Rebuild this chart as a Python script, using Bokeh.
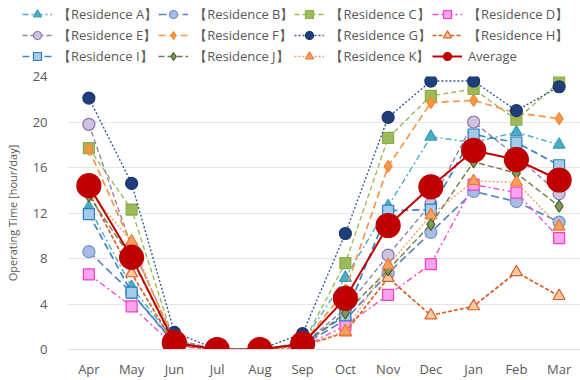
from bokeh.plotting import figure
from bokeh.layouts import column, row
from bokeh.models import FactorRange, Legend, LegendItem, ColumnDataSource
from bokeh.embed import file_html
from bokeh.resources import INLINE

months = ["Apr", "May", "Jun", "Jul", "Aug", "Sep", "Oct", "Nov", "Dec", "Jan", "Feb", "Mar"]

res_a = [12.5, 5.5, 0.8, 0.0, 0.0, 0.6, 6.3, 12.6, 18.7, 18.2, 19.1, 18.0]
res_b = [8.6, 5.0, 0.5, 0.0, 0.0, 0.4, 2.6, 6.7, 10.3, 13.9, 13.0, 11.2]
res_c = [17.7, 12.3, 0.6, 0.0, 0.0, 0.5, 7.6, 18.6, 22.3, 22.9, 20.2, 23.5]
res_d = [6.6, 3.8, 0.3, 0.0, 0.0, 0.2, 2.1, 4.8, 7.5, 14.5, 13.8, 9.8]
res_e = [19.8, 9.0, 0.9, 0.0, 0.0, 0.4, 3.6, 8.3, 12.8, 20.0, 17.0, 13.7]
res_f = [17.6, 9.2, 0.7, 0.0, 0.0, 0.5, 5.2, 16.1, 21.7, 21.9, 20.8, 20.3]
res_g = [22.1, 14.6, 1.5, 0.0, 0.0, 1.4, 10.2, 20.4, 23.6, 23.6, 21.0, 23.1]
res_h = [13.8, 6.7, 0.4, 0.0, 0.0, 0.3, 1.5, 6.3, 3.0, 3.8, 6.8, 4.7]
res_i = [11.9, 5.0, 0.6, 0.0, 0.0, 0.5, 3.0, 12.2, 12.3, 18.9, 18.2, 16.2]
res_j = [13.5, 8.0, 0.5, 0.0, 0.0, 0.4, 3.2, 7.0, 11.0, 16.5, 15.5, 12.6]
res_k = [13.9, 9.5, 0.6, 0.0, 0.0, 0.3, 1.6, 7.4, 11.8, 14.8, 14.7, 10.8]
average = [14.4, 8.1, 0.6, 0.0, 0.0, 0.5, 4.5, 10.9, 14.3, 17.5, 16.7, 14.9]

labels = ["【Residence A】", "【Residence B】", "【Residence C】", "【Residence D】",
          "【Residence E】", "【Residence F】", "【Residence G】", "【Residence H】",
          "【Residence I】", "【Residence J】", "【Residence K】", "Average"]

# (values, marker, fill, outline, line colour, dash, line width, marker size)
styles = [
    (res_a, "triangle", "#4BACC6", "#3A9CB8", "#4BACC6", "6 3 2 3", 1.4, 12),
    (res_b, "circle", "#A7BDE3", "#6F93CC", "#5B86C5", "8 4", 1.7, 12),
    (res_c, "square", "#9BBB59", "#8AAD48", "#9BBB59", "5 3", 1.4, 11),
    (res_d, "square", "#FFA3EC", "#F040C8", "#F050D0", "6 3 2 3", 1.4, 11),
    (res_e, "circle", "#CFC3E0", "#8C74B0", "#9080B8", "5 3", 1.4, 12),
    (res_f, "diamond", "#F79646", "#F08C38", "#F79646", "7 4", 1.7, 12),
    (res_g, "circle", "#1F3F7A", "#1A3568", "#3A5A96", "2 2", 1.4, 12),
    (res_h, "triangle", "#FAC9A0", "#D8602A", "#D8602A", "4 2", 1.7, 12),
    (res_i, "square", "#A5CBEB", "#2F7CC0", "#3C84C8", "7 4", 1.7, 11),
    (res_j, "diamond", "#7F9A5C", "#4F6228", "#6B7F4A", "6 3", 1.4, 12),
    (res_k, "triangle", "#F8A060", "#F07A30", "#F0A060", "2 2", 1.4, 12),
    (average, "circle", "#C00000", "#C00000", "#C00000", "solid", 2.0, 24),
]

LEG_H = 66
p = figure(width=580, height=380 - LEG_H, x_range=FactorRange(*months), y_range=(0, 24),
           output_backend="svg", toolbar_location=None,
           min_border_left=67, min_border_right=0, min_border_bottom=28, min_border_top=10)

# legend-only figure on top (its ranges keep the copied glyphs out of view)
lf = figure(width=580, height=LEG_H, x_range=FactorRange(*months), y_range=(100, 101),
            output_backend="svg", toolbar_location=None, x_axis_type=None, y_axis_type=None,
            min_border=0, min_border_left=0, min_border_right=0, min_border_top=0,
            min_border_bottom=0)
lf.outline_line_color = None
lf.grid.visible = False

items = []
for lab, (vals, marker, fill, outline, lcol, dash, lw, size) in zip(labels, styles):
    src = ColumnDataSource(dict(x=months, y=vals))
    kw_line = dict(line_color=lcol, line_width=lw, line_dash=dash)
    kw_sc = dict(marker=marker, size=size, fill_color=fill, line_color=outline, line_width=1.2)
    p.line("x", "y", source=src, **kw_line)
    p.scatter("x", "y", source=src, **kw_sc)
    ln = lf.line("x", "y", source=src, **kw_line)
    sc = lf.scatter("x", "y", source=src, **kw_sc)
    items.append(LegendItem(label=lab, renderers=[ln, sc]))

legend = Legend(items=items, ncols=4, orientation="horizontal",
                label_text_font="Open Sans", label_text_font_size="13px",
                label_text_color="#595959", glyph_width=30, glyph_height=20,
                label_height=20, spacing=1, padding=0, margin=0,
                border_line_color=None, background_fill_alpha=0, label_standoff=6,
                location=(22, 0))
lf.add_layout(legend, "center")

p.outline_line_color = None
p.xgrid.grid_line_color = None
p.ygrid.grid_line_color = "#E6E6E6"
p.yaxis.ticker = [0, 4, 8, 12, 16, 20, 24]
p.yaxis.axis_line_color = None
p.xaxis.axis_line_color = "#E0E0E0"
for ax in (p.xaxis, p.yaxis):
    ax.major_tick_line_color = None
    ax.minor_tick_line_color = None
    ax.major_tick_out = 0
    ax.major_tick_in = 0
    ax.minor_tick_out = 0
    ax.major_label_text_font = "Open Sans"
    ax.major_label_text_font_size = "13px"
    ax.major_label_text_color = "#595959"
p.yaxis.axis_label = "Operating Time [hour/day]"
p.yaxis.axis_label_text_font = "Open Sans"
p.yaxis.axis_label_text_font_size = "11px"
p.yaxis.axis_label_text_font_style = "normal"
p.yaxis.axis_label_text_color = "#595959"
p.yaxis.axis_label_standoff = 10
p.yaxis.major_label_standoff = 20
p.xaxis.major_label_standoff = 10

layout = column(row(lf), p, spacing=0)
open("out.html", "w").write(file_html(layout, INLINE))
